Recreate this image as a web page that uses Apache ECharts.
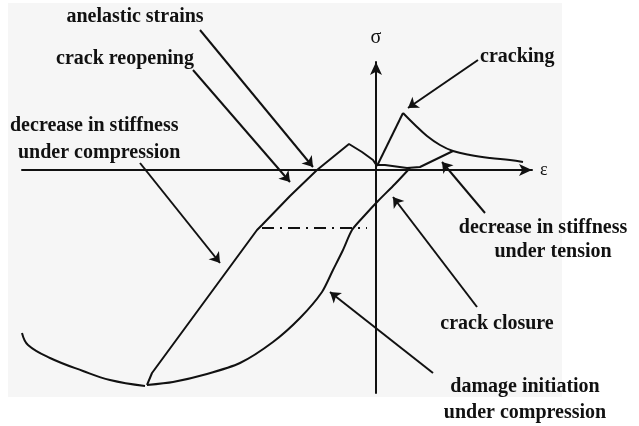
<!DOCTYPE html>
<html>
<head>
<meta charset="utf-8">
<script src="https://cdn.jsdelivr.net/npm/echarts@6/dist/echarts.min.js"></script>
<style>
  html, body { margin: 0; padding: 0; background: #fff; }
  #main { width: 639px; height: 426px; }
</style>
</head>
<body>
<div id="main"></div>
<script>
// strain (x) / stress (y) in arbitrary units, origin at the axes crossing
var tensionRise = [[0.1, 0.4], [2.7, 5.7]];
var tensionSoftening = [[2.7, 5.7], [3.9, 4.5], [5.1, 3.4], [6.4, 2.5], [7.7, 1.9], [9.4, 1.5], [11.4, 1.2], [13.4, 1.0], [14.7, 0.8]];
var tensionUnload = [[0.1, 0.5], [0.9, 0.5], [3.1, 0.2], [4.4, 0.3], [7.7, 1.9]];
var compressionLoad = [[3.4, 0.2], [1.9, -1.4], [0.2, -3.1], [-1.1, -4.5], [-2.4, -6.0], [-3.3, -8.0], [-4.3, -10.0],
  [-5.4, -12.2], [-7.6, -14.8], [-10.3, -17.2], [-13.6, -19.3], [-16.9, -20.4], [-20.3, -21.2], [-22.9, -21.5]];
var compressionUnload = [[-22.9, -21.5], [-22.4, -20.3], [-11.9, -6.0], [-11.4, -5.5], [-8.6, -2.6], [-5.9, 0],
  [-2.7, 2.6], [-1.4, 1.8], [-0.3, 1.0], [0.1, 0.4]];
var compressionSoftening = [[-23.1, -21.6], [-26.6, -21.0], [-29.3, -20.1], [-32.6, -18.8], [-34.8, -17.5], [-35.4, -16.3]];
var closureLevel = [[-11.4, -5.8], [-0.9, -5.8]];

// leader arrows: [from, to]
var leaders = [
  [[-17.6, 14.0], [-6.3, 0.3]],
  [[-18.3, 10.0], [-8.6, -1.2]],
  [[-23.6, 0.7], [-15.6, -9.3]],
  [[10.2, 11.0], [3.2, 6.2]],
  [[10.9, -4.3], [6.6, 0.8]],
  [[10.1, -13.7], [1.7, -2.7]],
  [[5.7, -20.3], [-4.6, -12.2]]
];

// labels: text, anchor, align
var labelTexts = ['anelastic strains', 'crack reopening', 'decrease in stiffness', 'under compression', 'cracking',
  'decrease in stiffness', 'under tension', 'crack closure', 'damage initiation', 'under compression'];
var labelAnchors = [[-24.1, 15.3], [-25.1, 11.1], [-36.6, 4.4], [-35.8, 1.7], [10.4, 11.3],
  [16.7, -5.8], [17.7, -8.2], [12.1, -15.4], [14.9, -21.7], [14.9, -24.3]];
var labelAligns = ['center', 'center', 'left', 'left', 'left', 'center', 'center', 'center', 'center', 'center'];

var chart = echarts.init(document.getElementById('main'));
var ink = '#111';

function curve(data, smooth) {
  return {
    type: 'line',
    data: data,
    smooth: smooth,
    symbol: 'none',
    lineStyle: { color: ink, width: 2 },
    z: 3
  };
}

var series = [
  curve(tensionRise, false),
  curve(tensionSoftening, 0.4),
  curve(tensionUnload, false),
  curve(compressionLoad, 0.25),
  curve(compressionUnload, false),
  curve(compressionSoftening, 0.4),
  {
    type: 'line',
    data: closureLevel,
    symbol: 'none',
    lineStyle: { color: ink, width: 2, type: [12, 6, 2, 6] },
    z: 3
  },
  {
    type: 'lines',
    coordinateSystem: 'cartesian2d',
    clip: false,
    symbol: ['none', 'arrow'],
    symbolSize: 10,
    lineStyle: { color: ink, width: 2, opacity: 1 },
    data: leaders.map(function (l) { return { coords: l }; }),
    z: 4
  }
];

chart.setOption({
  animation: false,
  backgroundColor: '#fff',
  grid: { left: 22, right: 107, top: 62, bottom: 33 },
  xAxis: {
    type: 'value',
    min: -35.4,
    max: 15.6,
    axisLine: {
      onZero: true,
      symbol: ['none', 'arrow'],
      symbolSize: [9, 13],
      lineStyle: { color: ink, width: 2 }
    },
    axisTick: { show: false },
    axisLabel: { show: false },
    splitLine: { show: false },
    name: 'ε',
    nameLocation: 'end',
    nameGap: 8,
    nameTextStyle: { color: ink, fontSize: 18, fontFamily: 'Liberation Serif' }
  },
  yAxis: {
    type: 'value',
    min: -22.3,
    max: 10.8,
    axisLine: {
      onZero: true,
      symbol: ['none', 'arrow'],
      symbolSize: [9, 13],
      lineStyle: { color: ink, width: 2 }
    },
    axisTick: { show: false },
    axisLabel: { show: false },
    splitLine: { show: false },
    name: 'σ',
    nameLocation: 'end',
    nameGap: 14,
    nameTextStyle: { color: ink, fontSize: 20, fontFamily: 'Liberation Serif' }
  },
  series: series
});

var graphics = [{
  type: 'rect',
  shape: { x: 8, y: 3, width: 554, height: 394 },
  style: { fill: '#f6f6f6' },
  z: -10,
  silent: true
}];
labelTexts.forEach(function (t, i) {
  var p = chart.convertToPixel({ gridIndex: 0 }, labelAnchors[i]);
  graphics.push({
    type: 'text',
    x: p[0],
    y: p[1],
    z: 100,
    style: {
      text: t,
      fill: ink,
      font: 'bold 20px "Liberation Serif"',
      textAlign: labelAligns[i],
      textVerticalAlign: 'middle'
    }
  });
});
chart.setOption({ graphic: graphics });
</script>
</body>
</html>
